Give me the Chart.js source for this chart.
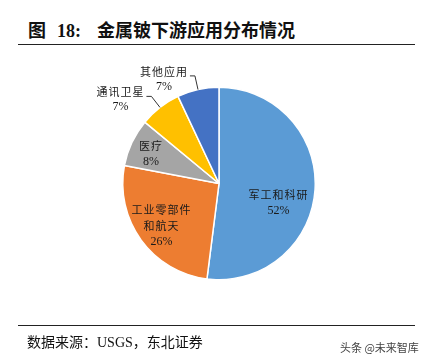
<!DOCTYPE html>
<html lang="zh">
<head>
    <meta charset="UTF-8">
    <title>金属铍下游应用分布情况</title>
    <script src="https://cdn.jsdelivr.net/npm/chart.js"></script>
    <style>
        html, body { margin: 0; padding: 0; background: #fff; }
        body { width: 428px; height: 362px; position: relative; overflow: hidden; }
        .title {
            position: absolute; left: 28px; top: 16px;
            font: bold 18px "Liberation Serif", "Noto Sans CJK SC", serif;
            color: #111; white-space: nowrap;
        }
        .title .num { margin-left: 11px; margin-right: 16px; }
        .rule { position: absolute; left: 18px; width: 397px; height: 1px; background: #222; }
        .source {
            position: absolute; left: 27px; top: 331px;
            font: 14px "Liberation Serif", "Noto Sans CJK SC", serif; color: #111; white-space: nowrap;
        }
        .mark {
            position: absolute; left: 340px; top: 339px;
            font: 11px "Noto Sans CJK SC", sans-serif; color: #444; white-space: nowrap;
        }
        .wrap { position: absolute; left: 0; top: 0; width: 428px; height: 362px; }
    </style>
</head>
<body>
    <div class="title">图<span class="num">18:</span>金属铍下游应用分布情况</div>
    <div class="rule" style="top:44px"></div>
    <div class="wrap"><canvas id="pie"></canvas></div>
    <div class="rule" style="top:325px"></div>
    <div class="source">数据来源：USGS，东北证券</div>
    <div class="mark">头条 @未来智库</div>

    <script>
        // data
        const categories = ['军工和科研', '工业零部件和航天', '医疗', '通讯卫星', '其他应用'];
        const labelLines = [['军工和科研'], ['工业零部件', '和航天'], ['医疗'], ['通讯卫星'], ['其他应用']];
        const shares = [52, 26, 8, 7, 7];

        const colors = ['#5B9BD5', '#ED7D31', '#A5A5A5', '#FFC000', '#4472C4'];
        // label placement: inside slices (fraction of radius + nudge) or outside with leader line
        const labelStyle = [
            { inside: true, frac: 0.65, dx: -3, dy: 15 },
            { inside: true, frac: 0.74, dx: 0, dy: 0 },
            { inside: true, frac: 0.78, dx: 0, dy: 2 },
            { inside: false },
            { inside: false }
        ];

        const sliceLabels = {
            id: 'sliceLabels',
            afterDatasetsDraw(chart) {
                const ctx = chart.ctx;
                const meta = chart.getDatasetMeta(0);
                ctx.save();
                ctx.textAlign = 'center';
                ctx.textBaseline = 'middle';
                ctx.fillStyle = '#1a1a1a';
                ctx.strokeStyle = '#333';
                ctx.lineWidth = 1;
                meta.data.forEach((arc, i) => {
                    const p = arc.getProps(['x', 'y', 'startAngle', 'endAngle', 'outerRadius'], true);
                    const mid = (p.startAngle + p.endAngle) / 2;
                    const cos = Math.cos(mid), sin = Math.sin(mid);
                    const lines = labelLines[i].concat([shares[i] + '%']);
                    const st = labelStyle[i];
                    let cx, cy, lh;
                    if (st.inside) {
                        lh = 16;
                        const r = p.outerRadius * st.frac;
                        cx = p.x + cos * r + st.dx;
                        cy = p.y + sin * r + st.dy;
                    } else {
                        lh = 15;
                        const ex = p.x + cos * p.outerRadius, ey = p.y + sin * p.outerRadius;
                        const bx = p.x + cos * (p.outerRadius + 14), by = p.y + sin * (p.outerRadius + 14);
                        ctx.beginPath();
                        ctx.moveTo(ex, ey);
                        ctx.lineTo(bx, by);
                        ctx.lineTo(bx - 5, by);
                        ctx.stroke();
                        cx = bx - 31;
                        cy = by + 3;
                    }
                    const top = cy - (lines.length - 1) * lh / 2;
                    lines.forEach((t, k) => {
                        const isPct = k === lines.length - 1;
                        ctx.font = isPct ? '12px "Liberation Serif", serif' : '11px "Noto Sans CJK SC", sans-serif';
                        ctx.letterSpacing = isPct ? '0px' : '1px';
                        ctx.fillText(t, cx, top + k * lh);
                    });
                });
                ctx.restore();
            }
        };

        new Chart(document.getElementById('pie'), {
            type: 'pie',
            data: {
                labels: categories,
                datasets: [{
                    data: shares,
                    backgroundColor: colors,
                    borderColor: '#ffffff',
                    borderWidth: 1.5
                }]
            },
            options: {
                responsive: true,
                maintainAspectRatio: false,
                animation: false,
                layout: { padding: { left: 122, right: 112, top: 86, bottom: 81 } },
                plugins: {
                    legend: { display: false },
                    tooltip: { enabled: false }
                }
            },
            plugins: [sliceLabels]
        });
    </script>
</body>
</html>
